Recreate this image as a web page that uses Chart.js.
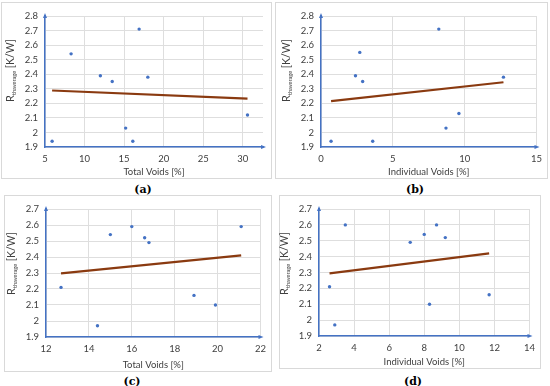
<!DOCTYPE html>
<html>
<head>
<meta charset="utf-8">
<script src="https://cdn.jsdelivr.net/npm/chart.js@4/dist/chart.umd.min.js"></script>
<style>
  body { margin: 0; background: #fff; }
  #wrap { position: relative; width: 550px; height: 386px; overflow: hidden; }
  .panel { position: absolute; box-sizing: border-box; border: 1px solid #d9d9d9; }
  .panel canvas { position: absolute; left: 0; top: 0; }
  .lbl { position: absolute; font: bold 11px "DejaVu Serif", "Liberation Serif", serif; color: #000;
         transform: translate(-50%, -50%); }
</style>
</head>
<body>
<div id="wrap"></div>
<script>
"use strict";

// ---- data ----
// (a) total voids vs Rth
const aVoids = [5.9, 8.3, 12.0, 13.5, 15.2, 16.1, 16.9, 18.0, 30.6];
const aRth   = [1.94, 2.54, 2.39, 2.35, 2.03, 1.94, 2.71, 2.38, 2.12];
const aTrendX = [5.9, 30.6];
const aTrendY = [2.288, 2.233];

// (b) individual voids vs Rth
const bVoids = [0.7, 2.4, 2.7, 2.9, 3.6, 8.2, 8.7, 9.6, 12.7];
const bRth   = [1.94, 2.39, 2.55, 2.35, 1.94, 2.71, 2.03, 2.13, 2.38];
const bTrendX = [0.7, 12.7];
const bTrendY = [2.215, 2.345];

// (c) total voids vs Rth
const cVoids = [12.7, 14.4, 15.0, 16.0, 16.6, 16.8, 18.9, 19.9, 21.1];
const cRth   = [2.21, 1.97, 2.54, 2.59, 2.52, 2.49, 2.16, 2.10, 2.59];
const cTrendX = [12.7, 21.1];
const cTrendY = [2.298, 2.41];

// (d) individual voids vs Rth
const dVoids = [2.6, 2.9, 3.5, 7.2, 8.0, 8.3, 8.7, 9.2, 11.7];
const dRth   = [2.21, 1.97, 2.60, 2.49, 2.54, 2.10, 2.60, 2.52, 2.16];
const dTrendX = [2.6, 11.7];
const dTrendY = [2.295, 2.42];

// ---- layout of each panel (box = framed area, plot = axes area) ----
const panels = [
  { tag: "(a)", xs: aVoids, ys: aRth, tx: aTrendX, ty: aTrendY, xTitle: "Total Voids [%]",
    xMin: 5, xMax: 32.56, xStep: 5, yMin: 1.9, yMax: 2.8,
    box: { l: 1, t: 2, r: 272, b: 179 }, plot: { l: 45, t: 16, r: 263, b: 147 }, lab: [143, 189] },
  { tag: "(b)", xs: bVoids, ys: bRth, tx: bTrendX, ty: bTrendY, xTitle: "Individual Voids [%]",
    xMin: 0, xMax: 15, xStep: 5, yMin: 1.9, yMax: 2.8,
    box: { l: 275, t: 2, r: 548, b: 179 }, plot: { l: 321, t: 16, r: 538, b: 147 }, lab: [415, 189] },
  { tag: "(c)", xs: cVoids, ys: cRth, tx: cTrendX, ty: cTrendY, xTitle: "Total Voids [%]",
    xMin: 12, xMax: 22, xStep: 2, yMin: 1.9, yMax: 2.7,
    box: { l: 4, t: 195, r: 272, b: 372 }, plot: { l: 46, t: 209, r: 262, b: 337 }, lab: [132, 381] },
  { tag: "(d)", xs: dVoids, ys: dRth, tx: dTrendX, ty: dTrendY, xTitle: "Individual Voids [%]",
    xMin: 2, xMax: 14, xStep: 2, yMin: 1.9, yMax: 2.7,
    box: { l: 279, t: 195, r: 541, b: 369 }, plot: { l: 319, t: 209, r: 537, b: 336 }, lab: [413, 381] },
];

const FONT = "Lato";
const TICK = "#404040";
const AXIS = "#4472c4";

// blue axis arrows + subscripted y title
const decor = {
  id: "decor",
  afterDraw(chart) {
    const ctx = chart.ctx, a = chart.chartArea;
    ctx.save();
    ctx.fillStyle = AXIS;
    ctx.beginPath();
    ctx.moveTo(a.left, a.top - 3); ctx.lineTo(a.left - 2, a.top + 2); ctx.lineTo(a.left + 2, a.top + 2);
    ctx.closePath(); ctx.fill();
    ctx.beginPath();
    ctx.moveTo(a.right + 3, a.bottom); ctx.lineTo(a.right - 2, a.bottom - 2); ctx.lineTo(a.right - 2, a.bottom + 2);
    ctx.closePath(); ctx.fill();

    ctx.translate(a.left - 31, a.top + 86);
    ctx.rotate(-Math.PI / 2);
    ctx.fillStyle = TICK;
    ctx.textBaseline = "alphabetic";
    ctx.font = `11px ${FONT}`;
    ctx.fillText("R", 0, 0);
    let w = ctx.measureText("R").width;
    ctx.font = `5.6px ${FONT}`;
    ctx.fillText("thaverage", w, 2);
    w += ctx.measureText("thaverage").width;
    ctx.font = `10.5px ${FONT}`;
    ctx.fillText(" [K/W]", w, 0);
    ctx.restore();
  },
};

const wrap = document.getElementById("wrap");

panels.forEach((p) => {
  const W = p.box.r - p.box.l, H = p.box.b - p.box.t;
  const div = document.createElement("div");
  div.className = "panel";
  Object.assign(div.style, { left: p.box.l + "px", top: p.box.t + "px", width: W + "px", height: H + "px" });
  const cv = document.createElement("canvas");
  cv.width = W; cv.height = H;
  cv.style.left = "-1px"; cv.style.top = "-1px";
  div.appendChild(cv);
  wrap.appendChild(div);

  const lab = document.createElement("div");
  lab.className = "lbl";
  lab.textContent = p.tag;
  lab.style.left = p.lab[0] + "px"; lab.style.top = p.lab[1] + "px";
  wrap.appendChild(lab);

  const keep = (lo, hi, step) => (s) => {
    const t = [];
    for (let v = lo; v <= hi + 1e-9; v += step) t.push({ value: +v.toFixed(2) });
    s.ticks = t;
  };

  new Chart(cv, {
    type: "scatter",
    data: {
      datasets: [
        {
          data: p.xs.map((x, i) => ({ x, y: p.ys[i] })),
          backgroundColor: AXIS, borderColor: AXIS, pointRadius: 1.7, pointBorderWidth: 0,
        },
        {
          data: p.tx.map((x, i) => ({ x, y: p.ty[i] })),
          showLine: true, borderColor: "#8a3a10", borderWidth: 2.2, pointRadius: 0,
        },
      ],
    },
    options: {
      responsive: false, animation: false, devicePixelRatio: 1,
      layout: { padding: { top: p.plot.t - p.box.t, right: p.box.r - p.plot.r, left: 0, bottom: 0 } },
      plugins: { legend: { display: false }, tooltip: { enabled: false } },
      scales: {
        x: {
          type: "linear", min: p.xMin, max: p.xMax,
          afterBuildTicks: keep(p.xMin, p.xMax, p.xStep),
          afterFit: (s) => { s.height = p.box.b - p.plot.b; },
          grid: { color: "#dedede", drawTicks: false },
          border: { color: AXIS, width: 1.5 },
          ticks: { color: TICK, font: { family: FONT, size: 9.5 }, padding: 6, maxRotation: 0,
                   callback: (v) => String(+v.toFixed(1)) },
          title: { display: true, text: p.xTitle, color: TICK, font: { family: FONT, size: 9.5 },
                   padding: { top: 0, bottom: 1 } },
        },
        y: {
          min: p.yMin, max: p.yMax,
          afterBuildTicks: keep(p.yMin, p.yMax, 0.1),
          afterFit: (s) => { s.width = p.plot.l - p.box.l; },
          grid: { color: "#dedede", drawTicks: false },
          border: { color: AXIS, width: 1.5 },
          ticks: { color: TICK, font: { family: FONT, size: 9.5 }, padding: 7,
                   callback: (v) => String(+v.toFixed(1)) },
        },
      },
    },
    plugins: [decor],
  });
});
</script>
</body>
</html>
